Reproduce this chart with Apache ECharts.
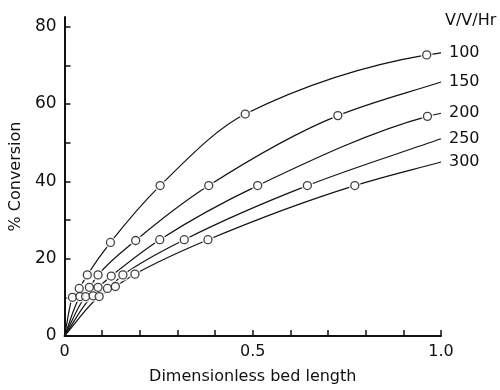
<!DOCTYPE html>
<html>
<head>
<meta charset="utf-8">
<script src="https://cdn.jsdelivr.net/npm/echarts@6/dist/echarts.min.js"></script>
<style>
  html, body { margin: 0; padding: 0; background: #fff; }
  #chart { width: 500px; height: 390px; }
</style>
</head>
<body>
<div id="chart"></div>
<script>
// Space velocities (V/V/Hr), one curve each
const rates = ['100', '150', '200', '250', '300'];

// Measured points: dimensionless bed length vs % conversion
const bedLen100 = [0.021, 0.039, 0.0605, 0.122, 0.254, 0.48, 0.962];
const conv100   = [10.0, 12.3, 15.8, 24.2, 38.9, 57.4, 72.7];
const bedLen150 = [0.041, 0.066, 0.089, 0.189, 0.383, 0.726];
const conv150   = [10.2, 12.6, 15.8, 24.7, 38.9, 57.0];
const bedLen200 = [0.056, 0.089, 0.124, 0.253, 0.513, 0.964];
const conv200   = [10.2, 12.6, 15.5, 24.9, 38.9, 56.8];
const bedLen250 = [0.076, 0.114, 0.155, 0.318, 0.645];
const conv250   = [10.4, 12.3, 15.8, 24.9, 38.9];
const bedLen300 = [0.092, 0.135, 0.187, 0.381, 0.771];
const conv300   = [10.2, 12.8, 16.0, 24.9, 38.9];

// Curves start at the origin and run to the end of the bed
const curveStart = [0, 0];
const curveEndLen = 1.0;
const curveEndConv = [73.2, 65.7, 57.6, 51.0, 45.0];

// Axis tick labels
const xTickLabels = [0, 0.5, 1.0];
const yTickLabels = [0, 20, 40, 60, 80];
const yMinorTicks = [0, 10, 20, 30, 40, 50, 60, 70, 80];

const pointSets = [
  [bedLen100, conv100],
  [bedLen150, conv150],
  [bedLen200, conv200],
  [bedLen250, conv250],
  [bedLen300, conv300]
];

const FONT = 'DejaVu Sans';
const INK = '#111';

// Monotone cubic (Fritsch–Carlson) path through pixel points, as SVG path data
function monotonePath(p) {
  const n = p.length;
  const h = [], d = [];
  for (let k = 0; k < n - 1; k++) {
    h[k] = p[k + 1][0] - p[k][0];
    d[k] = (p[k + 1][1] - p[k][1]) / h[k];
  }
  const m = [];
  m[0] = d[0];
  m[n - 1] = d[n - 2];
  for (let k = 1; k < n - 1; k++) {
    if (d[k - 1] * d[k] <= 0) { m[k] = 0; continue; }
    const h0 = h[k - 1], h1 = h[k];
    m[k] = 3 * (h0 + h1) / ((2 * h1 + h0) / d[k - 1] + (h1 + 2 * h0) / d[k]);
  }
  let s = 'M' + p[0][0] + ' ' + p[0][1];
  for (let k = 0; k < n - 1; k++) {
    const t = h[k] / 3;
    s += ' C' + (p[k][0] + t) + ' ' + (p[k][1] + m[k] * t) + ' ' +
         (p[k + 1][0] - t) + ' ' + (p[k + 1][1] - m[k + 1] * t) + ' ' +
         p[k + 1][0] + ' ' + p[k + 1][1];
  }
  return s;
}

const series = [];
pointSets.forEach(([xs, ys], i) => {
  const pts = xs.map((x, k) => [x, ys[k]]);
  const curve = [curveStart].concat(pts, [[curveEndLen, curveEndConv[i]]]);
  series.push({
    type: 'custom',
    name: rates[i],
    data: curve,
    clip: false,
    z: 2,
    silent: true,
    renderItem: (params, api) => {
      if (params.dataIndex !== 0) return null;
      const px = curve.map(c => api.coord(c));
      const end = px[px.length - 1];
      return {
        type: 'group',
        children: [{
          type: 'path',
          shape: { pathData: monotonePath(px) },
          style: { fill: null, stroke: INK, lineWidth: 1.2 }
        }, {
          type: 'text',
          x: end[0] + 8,
          y: end[1],
          style: {
            text: rates[i],
            fontFamily: FONT,
            fontSize: 16,
            fill: INK,
            verticalAlign: 'middle',
            align: 'left'
          }
        }]
      };
    }
  });
  // white halo that opens a small gap in the curve round each point
  series.push({
    type: 'scatter',
    data: pts,
    symbol: 'circle',
    symbolSize: 12,
    z: 3,
    itemStyle: { color: '#fff', borderWidth: 0 },
    silent: true
  });
  series.push({
    type: 'scatter',
    data: pts,
    symbol: 'circle',
    symbolSize: 8,
    z: 4,
    itemStyle: { color: '#fff', borderColor: INK, borderWidth: 1.3 },
    silent: true
  });
});

const chart = echarts.init(document.getElementById('chart'), null, { renderer: 'canvas' });
chart.setOption({
  animation: false,
  backgroundColor: '#fff',
  grid: { left: 61, right: 59, top: 17, bottom: 54, containLabel: false },
  xAxis: {
    type: 'value',
    min: 0,
    max: 1,
    interval: 0.1,
    name: 'Dimensionless bed length',
    nameLocation: 'middle',
    nameGap: 33,
    nameTextStyle: { fontFamily: FONT, fontSize: 16, color: INK },
    axisLine: { show: true, lineStyle: { color: INK, width: 2 } },
    axisTick: { show: true, inside: true, length: 6, lineStyle: { color: INK, width: 1.5 } },
    axisLabel: {
      customValues: xTickLabels,
      formatter: v => (v === 0 ? '0' : v.toFixed(1)),
      fontFamily: FONT,
      fontSize: 16,
      color: INK,
      margin: 8
    },
    splitLine: { show: false }
  },
  yAxis: {
    type: 'value',
    min: 0,
    max: 82.5,
    name: '% Conversion',
    nameLocation: 'middle',
    nameGap: 33,
    nameTextStyle: { fontFamily: FONT, fontSize: 16, color: INK },
    axisLine: { show: true, lineStyle: { color: INK, width: 2 } },
    axisTick: {
      show: true,
      inside: true,
      length: 6,
      customValues: yMinorTicks,
      lineStyle: { color: INK, width: 1.5 }
    },
    axisLabel: {
      customValues: yTickLabels,
      fontFamily: FONT,
      fontSize: 17,
      color: INK,
      margin: 8
    },
    splitLine: { show: false }
  },
  graphic: [{
    type: 'text',
    left: 445,
    top: 13,
    style: { text: 'V/V/Hr', fontFamily: FONT, fontSize: 16, fill: INK }
  }],
  series: series
});
</script>
</body>
</html>
